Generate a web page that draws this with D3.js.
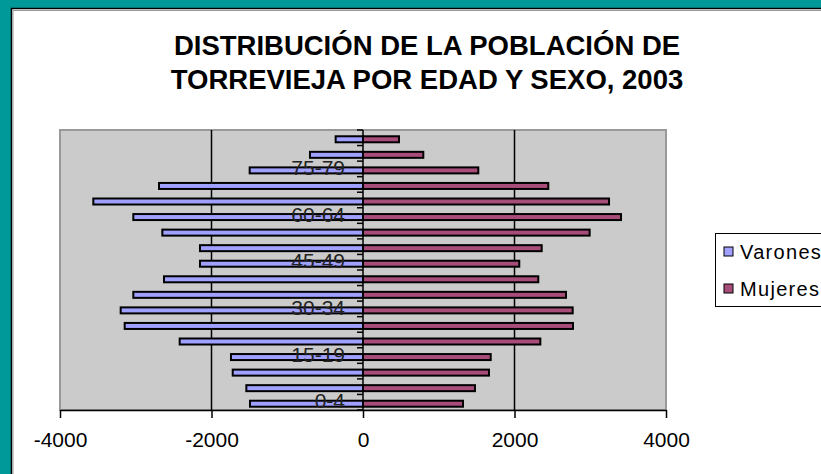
<!DOCTYPE html>
<html>
<head>
<meta charset="utf-8">
<script src="https://cdn.jsdelivr.net/npm/d3@7"></script>
<style>
  html, body { margin: 0; padding: 0; background: #009999; }
  svg { display: block; }
  text { font-family: "Liberation Sans", Arial, sans-serif; }
</style>
</head>
<body>
<div id="chart"></div>
<script>
// age groups from youngest (bottom) to oldest (top)
const ageGroups = ["0-4", "5-9", "10-14", "15-19", "20-24", "25-29", "30-34", "35-39", "40-44",
    "45-49", "50-54", "55-59", "60-64", "65-69", "70-74", "75-79", "80-84", "85+"];
const varones = [1492, 1540, 1720, 1743, 2420, 3146, 3199, 3032, 2627,
    2152, 2152, 2649, 3032, 3560, 2693, 1496, 700, 361];
const mujeres = [1320, 1478, 1663, 1686, 2341, 2772, 2768, 2680, 2314,
    2063, 2359, 2992, 3406, 3248, 2446, 1522, 796, 475];
const xTicks = [-4000, -2000, 0, 2000, 4000];
const seriesNames = ["Varones", "Mujeres"];
const titleLines = ["DISTRIBUCIÓN DE LA POBLACIÓN DE", "TORREVIEJA POR EDAD Y SEXO, 2003"];

const width = 821, height = 474;
const plot = { left: 60, right: 666, top: 130, bottom: 410 };
const colors = { Varones: "#a0a0ff", Mujeres: "#a84d7a" };

const svg = d3.select("#chart").append("svg")
    .attr("width", width)
    .attr("height", height);

// frame
svg.append("rect").attr("x", 0).attr("y", 0).attr("width", width).attr("height", height).attr("fill", "#009999");
svg.append("rect").attr("x", 12).attr("y", 9).attr("width", width - 12).attr("height", height - 9).attr("fill", "#fff");
svg.append("path").attr("d", `M11.5,${height}V8.5H${width}`).attr("fill", "none").attr("stroke", "#000").attr("stroke-width", 1.5);
svg.append("path").attr("d", `M13,${height}V10.5H${width}`).attr("fill", "none").attr("stroke", "#999").attr("stroke-width", 1);

// title
svg.append("g").selectAll("text")
    .data(titleLines)
    .enter().append("text")
    .attr("x", 427)
    .attr("y", (d, i) => 55 + i * 34)
    .attr("text-anchor", "middle")
    .attr("font-size", 27.5)
    .attr("font-weight", "bold")
    .attr("fill", "#000")
    .text(d => d);

const x = d3.scaleLinear()
    .domain([-4000, 4000])
    .range([plot.left, plot.right]);

const y = d3.scaleBand()
    .domain(ageGroups)
    .range([plot.bottom, plot.top]);

// plot area
svg.append("rect")
    .attr("x", plot.left)
    .attr("y", plot.top)
    .attr("width", plot.right - plot.left)
    .attr("height", plot.bottom - plot.top)
    .attr("fill", "#cbcbcb")
    .attr("stroke", "#999")
    .attr("stroke-width", 2);

// gridlines
svg.append("g")
    .selectAll("line")
    .data(xTicks.filter(t => t !== 0 && Math.abs(t) < 4000))
    .enter().append("line")
    .attr("x1", d => x(d)).attr("x2", d => x(d))
    .attr("y1", plot.top).attr("y2", plot.bottom)
    .attr("stroke", "#000")
    .attr("stroke-width", 1.5);

// bars
const barH = 6;
const rows = ageGroups.map((g, i) => ({ group: g, Varones: -varones[i], Mujeres: mujeres[i] }));

seriesNames.forEach(s => {
    svg.append("g")
        .selectAll("rect")
        .data(rows)
        .enter().append("rect")
        .attr("x", d => Math.min(x(0), x(d[s])))
        .attr("y", d => y(d.group) + y.bandwidth() / 2 - barH / 2 + 1.5)
        .attr("width", d => Math.abs(x(d[s]) - x(0)))
        .attr("height", barH)
        .attr("fill", colors[s])
        .attr("stroke", "#000")
        .attr("stroke-width", 2);
});

// category axis at zero
const yAxis = svg.append("g")
    .attr("transform", `translate(${x(0)},0)`);
yAxis.append("line")
    .attr("y1", plot.top).attr("y2", plot.bottom)
    .attr("stroke", "#000").attr("stroke-width", 1.5);
yAxis.selectAll(".tick")
    .data(ageGroups.concat(["top"]))
    .enter().append("line")
    .attr("x1", -6).attr("x2", 0)
    .attr("y1", (d, i) => i < ageGroups.length ? y(d) + y.bandwidth() : plot.top)
    .attr("y2", (d, i) => i < ageGroups.length ? y(d) + y.bandwidth() : plot.top)
    .attr("stroke", "#000").attr("stroke-width", 1.5);
yAxis.selectAll("text")
    .data(ageGroups.filter((d, i) => i % 3 === 0))
    .enter().append("text")
    .attr("x", -18)
    .attr("y", d => y(d) + y.bandwidth() / 2 + 6)
    .attr("text-anchor", "end")
    .attr("font-size", 21)
    .attr("fill", "#222")
    .text(d => d);

// value axis
const xAxis = svg.append("g")
    .attr("transform", `translate(0,${plot.bottom})`)
    .call(d3.axisBottom(x).tickValues(xTicks).tickFormat(d => String(d))
        .tickSize(8).tickSizeOuter(0).tickPadding(14));
xAxis.select(".domain").attr("stroke", "#000").attr("stroke-width", 1.5);
xAxis.selectAll(".tick line").attr("stroke", "#000").attr("stroke-width", 1.5);
xAxis.selectAll(".tick text")
    .attr("font-family", "'Liberation Sans', Arial, sans-serif")
    .attr("font-size", 21)
    .attr("fill", "#000");

// legend
const legend = svg.append("g");
legend.append("rect")
    .attr("x", 715.5).attr("y", 233.5)
    .attr("width", 120).attr("height", 73)
    .attr("fill", "#fff").attr("stroke", "#000").attr("stroke-width", 1);
const item = legend.selectAll(".item")
    .data(seriesNames)
    .enter().append("g")
    .attr("transform", (d, i) => `translate(724,${252 + i * 37})`);
item.append("rect")
    .attr("x", 0).attr("y", -5)
    .attr("width", 9).attr("height", 9)
    .attr("fill", d => colors[d])
    .attr("stroke", "#000").attr("stroke-width", 1);
item.append("text")
    .attr("x", 16).attr("y", 7)
    .attr("font-size", 20)
    .attr("letter-spacing", 1.3)
    .attr("fill", "#000")
    .text(d => d);
</script>
</body>
</html>
